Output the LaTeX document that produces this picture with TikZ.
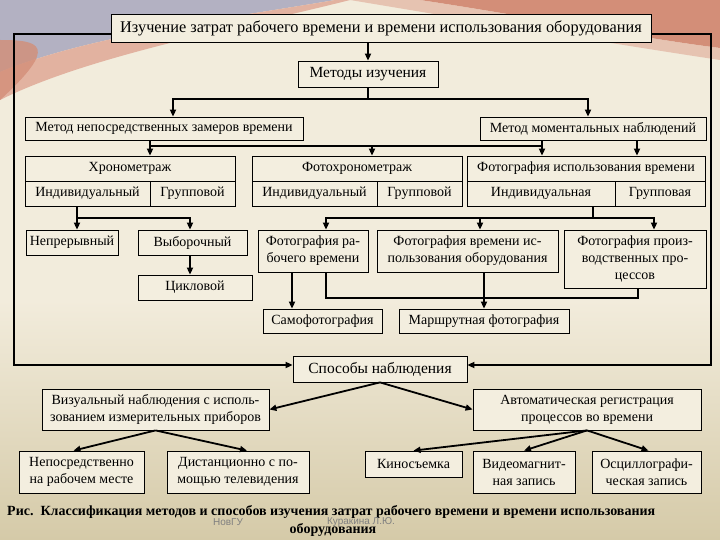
\documentclass[tikz,border=0pt]{standalone}
\usepackage{fontspec}
\setmainfont{Liberation Serif}
\setsansfont{Liberation Sans}
\usetikzlibrary{arrows.meta}
\definecolor{bgcream}{HTML}{F2ECDC}
\definecolor{bgtan}{HTML}{D5CAA8}
\definecolor{boxfill}{HTML}{F3EEDF}
\definecolor{greyblue}{HTML}{B3B1C2}
\definecolor{salmon}{HTML}{D38E78}
\definecolor{salmonlt}{HTML}{E2B2A0}
\begin{document}
\begin{tikzpicture}[x=1pt,y=-1pt,
  box/.style={draw=black, line width=0.8pt, fill=boxfill, inner sep=0pt, align=center,
    font=\fontsize{14}{17}\selectfont},
  bigbox/.style={box, font=\fontsize{15.5}{18}\selectfont},
  conn/.style={line width=2pt},
  arr/.style={line width=2pt, -{Triangle[length=7pt,width=6pt]}},
  darr/.style={line width=1.8pt, -{Triangle[length=7pt,width=6pt]}},
  framearr/.style={line width=1.8pt, -{Triangle[length=7pt,width=6pt]}}]
% background
\fill[bgcream] (0,0) rectangle (720,540);
\shade[top color=bgcream, bottom color=bgtan] (0,300) rectangle (720,540);
\fill[greyblue] (0,0) -- (335,0) .. controls (230,18) and (90,35) .. (0,72) -- cycle;
\fill[salmonlt] (0,72) .. controls (90,35) and (230,18) .. (335,0) -- (350,0) .. controls (240,28) and (90,55) .. (0,100) -- cycle;
\fill[salmon,opacity=0.8] (0,40) .. controls (40,40) and (60,45) .. (0,100) -- cycle;
\fill[salmon] (420,0) -- (720,0) -- (720,48) .. controls (640,38) and (520,15) .. (420,0) -- cycle;
\fill[salmonlt,opacity=0.7] (350,0) -- (420,0) .. controls (520,15) and (640,38) .. (720,48) -- (720,60) .. controls (620,45) and (470,20) .. (350,0) -- cycle;
\useasboundingbox (0,0) rectangle (720,540);

% top part
\node[box, font=\fontsize{16.3}{19}\selectfont, minimum width=540pt, minimum height=28pt] (top) at (381,28) {Изучение затрат рабочего времени и времени использования оборудования};
\node[bigbox, minimum width=140pt, minimum height=26pt] (metody) at (368,74) {Методы изучения};
\node[box, minimum width=278pt, minimum height=23pt] (m1) at (164,128.5) {Метод непосредственных замеров времени};
\node[box, minimum width=226pt, minimum height=23pt] (m2) at (593,128.5) {Метод моментальных наблюдений};

% row 2
\node[box, minimum width=210pt, minimum height=25pt] (hron) at (130,168.5) {Хронометраж};
\node[box, minimum width=125pt, minimum height=25pt] (hind) at (87.5,193.5) {Индивидуальный};
\node[box, minimum width=85pt, minimum height=25pt] (hgrp) at (192.5,193.5) {Групповой};
\node[box, minimum width=210pt, minimum height=25pt] (fhron) at (357,168.5) {Фотохронометраж};
\node[box, minimum width=125pt, minimum height=25pt] (fhind) at (314.5,193.5) {Индивидуальный};
\node[box, minimum width=85pt, minimum height=25pt] (fhgrp) at (419.5,193.5) {Групповой};
\node[box, minimum width=238pt, minimum height=25pt] (fisp) at (586,168.5) {Фотография использования времени};
\node[box, minimum width=148pt, minimum height=25pt] (find) at (541,193.5) {Индивидуальная};
\node[box, minimum width=90pt, minimum height=25pt] (fgrp) at (660,193.5) {Групповая};

% row 3
\node[box, minimum width=92pt, minimum height=25pt] (nepr) at (72,242.5) {Непрерывный};
\node[box, minimum width=109pt, minimum height=25pt] (vyb) at (192.5,242.5) {Выборочный};
\node[box, minimum width=114pt, minimum height=25pt] (cikl) at (195,287.5) {Цикловой};
\node[box, minimum width=110pt, minimum height=42pt] (frab) at (313,251) {Фотография ра-\\бочего времени};
\node[box, minimum width=181pt, minimum height=42pt] (fvr) at (467.5,251) {Фотография времени ис-\\пользования оборудования};
\node[box, minimum width=142pt, minimum height=58pt] (fpr) at (635,259) {Фотография произ-\\водственных про-\\цессов};

% row 4
\node[box, minimum width=119pt, minimum height=24pt] (samo) at (322.5,321) {Самофотография};
\node[box, minimum width=170pt, minimum height=24pt] (marsh) at (484,321) {Маршрутная фотография};

% lower part
\node[bigbox, minimum width=174pt, minimum height=26pt] (sposob) at (380,369) {Способы наблюдения};
\node[box, minimum width=227pt, minimum height=41pt] (viz) at (155.5,409.5) {Визуальный наблюдения с исполь-\\зованием измерительных приборов};
\node[box, minimum width=228pt, minimum height=41pt] (avt) at (587,409.5) {Автоматическая регистрация\\процессов во времени};
\node[box, minimum width=125pt, minimum height=42pt] (neposr) at (81.5,472) {Непосредственно\\на рабочем месте};
\node[box, minimum width=142pt, minimum height=42pt] (dist) at (238,472) {Дистанционно с по-\\мощью телевидения};
\node[box, minimum width=97pt, minimum height=26pt] (kino) at (413.5,464) {Киносъемка};
\node[box, minimum width=102pt, minimum height=42pt] (video) at (524,472) {Видеомагнит-\\ная запись};
\node[box, minimum width=109pt, minimum height=42pt] (osc) at (646.5,472) {Осциллографи-\\ческая запись};

% caption
\node[anchor=west, inner sep=0pt, font=\fontsize{14}{16}\selectfont\bfseries] (cap1) at (7,512) {Рис.\ \ Классификация методов и способов изучения затрат рабочего времени и времени использования};
\node[inner sep=0pt, font=\fontsize{14}{16}\selectfont\bfseries] (cap2) at (333,530) {оборудования};
\node[inner sep=0pt, text=black!50, font=\sffamily\fontsize{10}{12}\selectfont] (wm1) at (228,522) {НовГУ};
\node[inner sep=0pt, text=black!50, font=\sffamily\fontsize{10}{12}\selectfont] (wm2) at (361,522) {Куракина Л.Ю.};

% connectors: top
\draw[arr] (metody.north |- top.south) -- (metody.north);
\draw[arr] (metody.south) -- ++(0,12) -| ([xshift=9pt]m1.north);
\draw[arr] (metody.south) -- ++(0,12) -| ([xshift=-5pt]m2.north);

% methods -> row 2
\coordinate (a150) at (150,146);
\coordinate (a372) at (372,146);
\coordinate (a542) at (542,146);
\coordinate (a637) at (637,146);
\draw[arr] (m1.south -| a150) -- (hron.north -| a150);
\draw[conn] (a150) -- (a542);
\draw[arr] (a372) -- (fhron.north -| a372);
\draw[arr] (m2.south -| a542) -- (fisp.north -| a542);
\draw[arr] (m2.south -| a637) -- (fisp.north -| a637);

% row 2 -> row 3
\coordinate (b77) at (77,218);
\coordinate (b190) at (190,218);
\draw[arr] (hind.south -| b77) -- (nepr.north -| b77);
\draw[arr] (b77) -- (b190) -- (vyb.north -| b190);
\draw[arr] (vyb.south -| b190) -- (cikl.north -| b190);

\coordinate (c326) at (326,218);
\coordinate (c480) at (480,218);
\coordinate (c593) at (593,218);
\coordinate (c654) at (654,218);
\draw[conn] (find.south -| c593) -- (c593);
\draw[arr] (c593) -- (c326) -- (frab.north -| c326);
\draw[arr] (c480) -- (fvr.north -| c480);
\draw[arr] (c593) -- (c654) -- (fpr.north -| c654);

% row 3 -> row 4
\coordinate (e292) at (292,300);
\coordinate (f326) at (326,298);
\coordinate (f638) at (638,298);
\coordinate (g484) at (484,300);
\draw[conn] (frab.south -| f326) -- (f326) -- (f638) -- (fpr.south -| f638);
\draw[arr] (frab.south -| e292) -- (samo.north -| e292);
\draw[arr] (fvr.south -| g484) -- (marsh.north -| g484);

% outer frame
\coordinate (fl) at (14,365);
\coordinate (fr) at (711,365);
\draw[framearr] ([yshift=-6pt]top.west) -| (fl) -- (sposob.west |- fl);
\draw[framearr] ([yshift=-6pt]top.east) -| (fr) -- (sposob.east |- fr);

% lower connectors
\draw[darr] (sposob.south) -- (viz.east);
\draw[darr] (sposob.south) -- (avt.west);
\draw[darr] (viz.south) -- ([xshift=-8pt]neposr.north);
\draw[darr] (viz.south) -- ([xshift=9pt]dist.north);
\draw[darr] (avt.south) -- (kino.north);
\draw[darr] (avt.south) -- (video.north);
\draw[darr] (avt.south) -- ([xshift=2pt]osc.north);
\end{tikzpicture}
\end{document}
